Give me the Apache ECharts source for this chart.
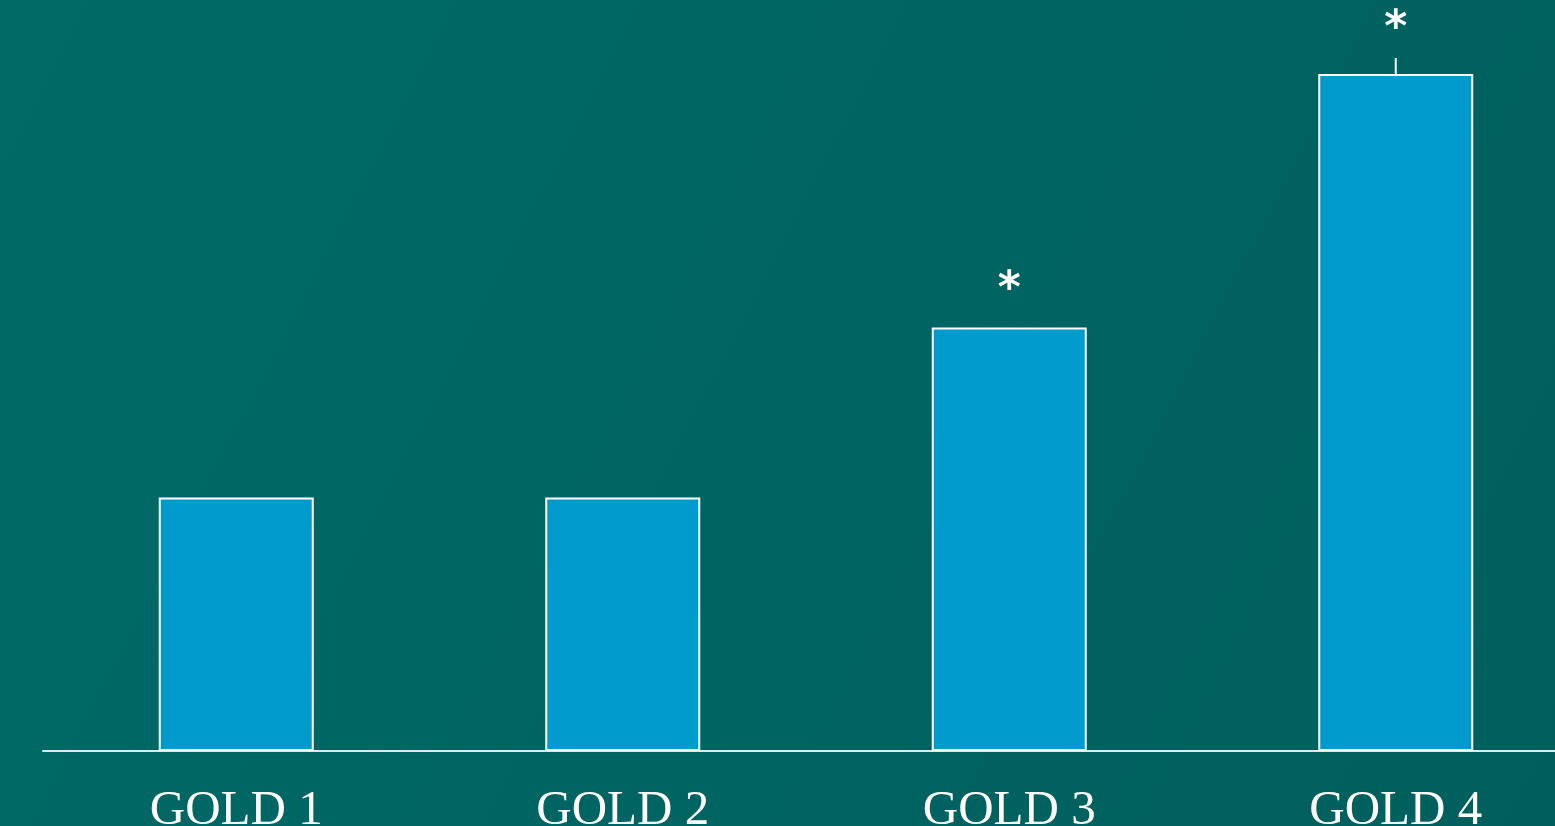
<!DOCTYPE html>
<html><head><meta charset="utf-8">
<script src="https://cdn.jsdelivr.net/npm/echarts@6/dist/echarts.min.js"></script>
<style>html,body{margin:0;padding:0;overflow:hidden;background:#006462}#c{width:1600px;height:826px}</style>
</head><body><div id="c"></div>
<script>
const categories = ['GOLD 1', 'GOLD 2', 'GOLD 3', 'GOLD 4'];
const values = [1.0, 1.0, 1.67, 2.67];
const errors = [0, 0, 0, 0.063];
const marks = ['', '', '*', '*'];

const chart = echarts.init(document.getElementById('c'));
chart.setOption({
  backgroundColor: {
    type: 'linear', x: 0, y: 0, x2: 1, y2: 1,
    colorStops: [{offset: 0, color: '#006a67'}, {offset: 1, color: '#005f5d'}]
  },
  animation: false,
  grid: {left: 43, top: 1, width: 1546, height: 750, outerBoundsMode: 'none', containLabel: false},
  xAxis: {
    type: 'category', data: categories,
    axisLine: {lineStyle: {color: '#d8eeee', width: 2}},
    axisTick: {show: false},
    axisLabel: {color: '#ffffff', fontFamily: 'Liberation Serif', fontSize: 49, margin: 36}
  },
  yAxis: {type: 'value', min: 0, max: 2.958, show: false, splitLine: {show: false}},
  series: [
    {
      type: 'bar', data: values, barWidth: 155,
      itemStyle: {color: '#009bcc', borderColor: '#ffffff', borderWidth: 2}
    },
    {
      type: 'custom',
      data: values.map((v, i) => [i, v, errors[i], marks[i]]),
      renderItem: function (params, api) {
        const i = api.value(0), v = api.value(1), e = api.value(2), m = marks[i];
        const top = api.coord([i, v]);
        const etop = api.coord([i, v + e]);
        const children = [];
        if (e > 0) {
          children.push({type: 'line', shape: {x1: top[0], y1: top[1], x2: etop[0], y2: etop[1]},
            style: {stroke: '#ffffff', lineWidth: 2}});
        }
        if (m) {
          children.push({type: 'text', style: {text: m, x: etop[0], y: etop[1] - (e > 0 ? 28 : 37),
            fill: '#ffffff', font: 'bold 44px "DejaVu Sans"', textAlign: 'center', textVerticalAlign: 'middle'}});
        }
        return {type: 'group', children: children};
      },
      z: 5
    }
  ]
});
</script></body></html>
